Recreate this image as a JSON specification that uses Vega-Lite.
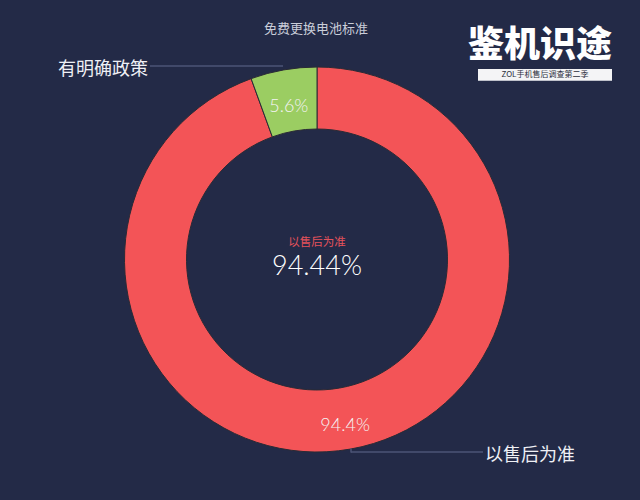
{
  "$schema": "https://vega.github.io/schema/vega-lite/v6.json",
  "width": 640,
  "height": 500,
  "autosize": {"type": "fit", "contains": "padding"},
  "padding": {"top": 19, "left": 0, "right": 6, "bottom": 0},
  "background": "#232a47",
  "config": {"view": {"stroke": null}, "text": {"font": "Noto Sans CJK SC"}},
  "data": {
    "values": [
      {"category": "以售后为准", "value": 94.44, "label": "94.4%"},
      {"category": "有明确政策", "value": 5.56, "label": "5.6%"}
    ]
  },
  "layer": [
    {
      "mark": {"type": "arc", "radius": 192.5, "radius2": 130.5, "stroke": "#2a2a35", "strokeWidth": 1},
      "encoding": {
        "theta": {"field": "value", "type": "quantitative", "stack": true},
        "order": {"field": "value", "type": "quantitative", "sort": "descending"},
        "color": {
          "field": "category",
          "type": "nominal",
          "scale": {"domain": ["以售后为准", "有明确政策"], "range": ["#f35457", "#9bcd62"]},
          "legend": null
        }
      }
    },
    {
      "mark": {"type": "text", "radius": 162, "dy": 7, "font": "Lato", "fontSize": 18, "fontWeight": 300, "fill": "#f3f3f3"},
      "encoding": {
        "theta": {"field": "value", "type": "quantitative", "stack": true},
        "order": {"field": "value", "type": "quantitative", "sort": "descending"},
        "text": {"field": "label"}
      }
    },
    {
      "data": {"values": [{"t": "以售后为准"}]},
      "mark": {"type": "text", "dy": -16.5, "fontSize": 11.5, "fill": "#e3525b"},
      "encoding": {"text": {"field": "t"}}
    },
    {
      "data": {"values": [{"t": "94.44%"}]},
      "mark": {"type": "text", "dy": 7.5, "font": "Lato", "fontSize": 27, "fontWeight": 300, "fill": "#ffffff"},
      "encoding": {"text": {"field": "t"}}
    },
    {
      "data": {"values": [{"t": "免费更换电池标准"}]},
      "mark": {"type": "text", "x": {"expr": "width/2 - 1"}, "y": {"expr": "height/2 - 231"}, "fontSize": 13, "fill": "#c9cdd9"},
      "encoding": {"text": {"field": "t"}}
    },
    {
      "data": {"values": [{"t": "鉴机识途"}]},
      "mark": {"type": "text", "x": {"expr": "width/2 + 223"}, "y": {"expr": "height/2 - 214"}, "fontSize": 36, "fontWeight": 900, "fill": "#ffffff", "letterSpacing": 5},
      "encoding": {"text": {"field": "t"}}
    },
    {
      "mark": {"type": "rect", "x": {"expr": "width/2 + 161"}, "x2": {"expr": "width/2 + 295"}, "y": {"expr": "height/2 - 190.5"}, "y2": {"expr": "height/2 - 179"}, "fill": "#f4f4f6"},
      "encoding": {}
    },
    {
      "data": {"values": [{"t": "ZOL手机售后调查第二季"}]},
      "mark": {"type": "text", "x": {"expr": "width/2 + 228"}, "y": {"expr": "height/2 - 184.5"}, "fontSize": 8, "fill": "#2b2f3d"},
      "encoding": {"text": {"field": "t"}}
    },
    {
      "mark": {"type": "rect", "x": {"expr": "width/2 - 167"}, "x2": {"expr": "width/2 - 34"}, "y": {"expr": "height/2 - 194"}, "y2": {"expr": "height/2 - 193"}, "fill": "#4d5577"},
      "encoding": {}
    },
    {
      "mark": {"type": "rect", "x": {"expr": "width/2 + 33.5"}, "x2": {"expr": "width/2 + 34.5"}, "y": {"expr": "height/2 + 189"}, "y2": {"expr": "height/2 + 193"}, "fill": "#4d5577"},
      "encoding": {}
    },
    {
      "mark": {"type": "rect", "x": {"expr": "width/2 + 34"}, "x2": {"expr": "width/2 + 166"}, "y": {"expr": "height/2 + 192"}, "y2": {"expr": "height/2 + 193"}, "fill": "#4d5577"},
      "encoding": {}
    },
    {
      "data": {"values": [{"t": "有明确政策"}]},
      "mark": {"type": "text", "align": "right", "x": {"expr": "width/2 - 169"}, "y": {"expr": "height/2 - 189.5"}, "fontSize": 18, "fill": "#eef0f5"},
      "encoding": {"text": {"field": "t"}}
    },
    {
      "data": {"values": [{"t": "以售后为准"}]},
      "mark": {"type": "text", "align": "left", "x": {"expr": "width/2 + 168"}, "y": {"expr": "height/2 + 196.5"}, "fontSize": 18, "fill": "#eef0f5"},
      "encoding": {"text": {"field": "t"}}
    }
  ]
}
